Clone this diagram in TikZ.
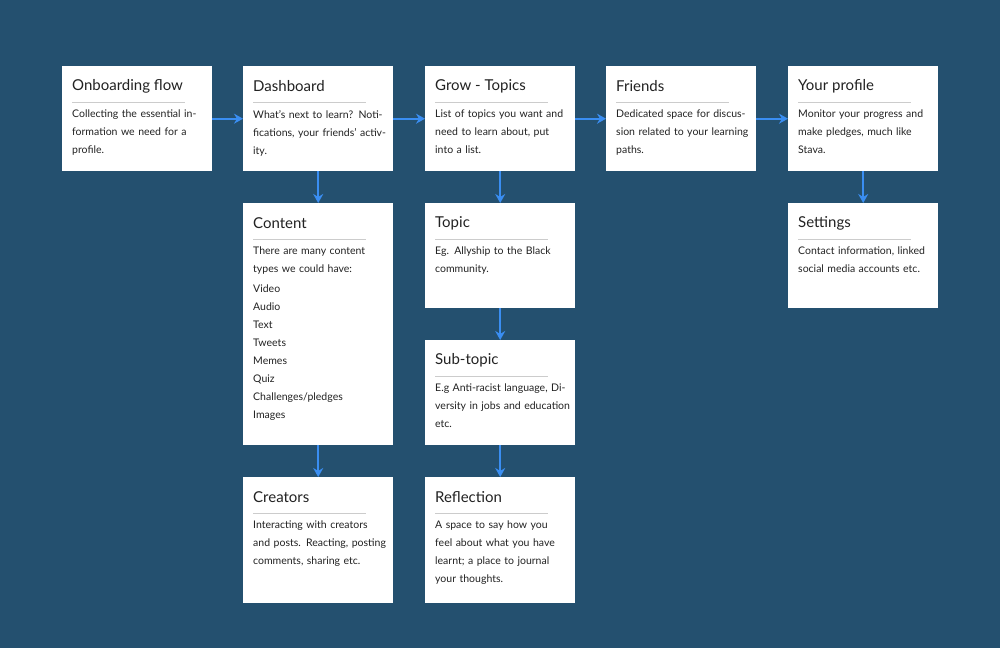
\documentclass[tikz,border=0pt]{standalone}
\usepackage{fontspec}
\setmainfont{Lato}
\usetikzlibrary{arrows.meta, positioning}
\definecolor{bg}{HTML}{24506F}
\definecolor{flow}{HTML}{3A8EF2}
\definecolor{ink}{HTML}{222222}
\definecolor{rule}{HTML}{CCCCCC}

% card: name, x, y (top), height, title, body
\newcommand{\card}[6]{%
  \node[card, minimum height=#4pt] (#1) at (#2,#3) {};
  \node[cardtitle] (#1-t) at (#2+10,#3+20) {#5};
  \draw[rule] (#2+10,#3+36) -- (#2+123,#3+36);
  \node[cardbody] (#1-b) at (#2+10,#3+44) {#6};
}

\begin{document}
\begin{tikzpicture}[x=1pt, y=-1pt,
    card/.style={rectangle, fill=white, anchor=north west, minimum width=150pt, inner sep=0pt},
    cardtitle/.style={anchor=west, inner sep=0pt, font=\fontsize{15}{18}\selectfont, text=ink},
    cardbody/.style={anchor=north west, inner sep=0pt, text width=135pt, align=left,
      font=\fontsize{10.5}{18}\selectfont, text=ink},
    rule/.style={draw=rule, line width=0.8pt},
    link/.style={-{Stealth[length=9pt, width=10pt]}, draw=flow, line width=2.2pt}]
  \fill[bg] (0,0) rectangle (1000,648);

  % Top row
  \card{onboard}{62}{66}{105}{Onboarding flow}{Collecting the essential information we need for a profile.}
  \card{dash}{243}{66}{105}{Dashboard}{What's next to learn? Notifications, your friends' activity.}
  \card{grow}{425}{66}{105}{Grow - Topics}{List of topics you want and need to learn about, put into a list.}
  \card{friends}{606}{66}{105}{Friends}{Dedicated space for discussion related to your learning paths.}
  \card{profile}{788}{66}{105}{Your profile}{Monitor your progress and make pledges, much like Stava.}

  % Second row
  \card{content}{243}{203}{242}{Content}{There are many content types we could have:\\[2pt]
    Video\\Audio\\Text\\Tweets\\Memes\\Quiz\\Challenges/pledges\\Images}
  \card{topic}{425}{203}{105}{Topic}{Eg. Allyship to the Black community.}
  \card{settings}{788}{203}{105}{Settings}{Contact information, linked social media accounts etc.}

  % Lower rows
  \card{subtopic}{425}{340}{105}{Sub-topic}{E.g Anti-racist language, Diversity in jobs and education etc.}
  \card{creators}{243}{477}{126}{Creators}{Interacting with creators and posts. Reacting, posting comments, sharing etc.}
  \card{reflect}{425}{477}{126}{Reflection}{A space to say how you feel about what you have learnt; a place to journal your thoughts.}

  % Connectors
  \draw[link] (onboard) -- (dash);
  \draw[link] (dash) -- (grow);
  \draw[link] (grow) -- (friends);
  \draw[link] (friends) -- (profile);
  \draw[link] (dash) -- (content);
  \draw[link] (content) -- (creators);
  \draw[link] (grow) -- (topic);
  \draw[link] (topic) -- (subtopic);
  \draw[link] (subtopic) -- (reflect);
  \draw[link] (profile) -- (settings);
\end{tikzpicture}
\end{document}
